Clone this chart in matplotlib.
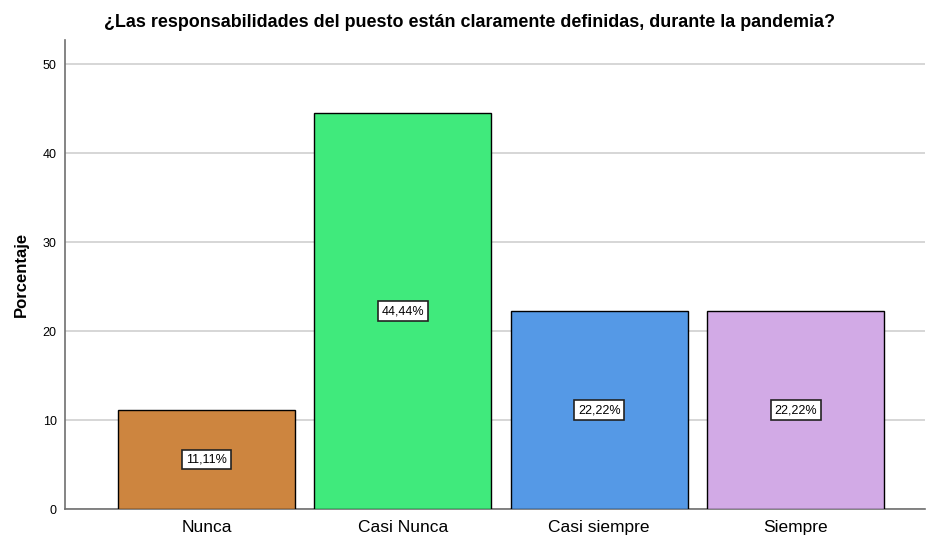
import matplotlib
matplotlib.use("Agg")
import matplotlib.pyplot as plt

categories = ["Nunca", "Casi Nunca", "Casi siempre", "Siempre"]
values = [11.11, 44.44, 22.22, 22.22]
labels = ["11,11%", "44,44%", "22,22%", "22,22%"]
colors = ["#CD853F", "#40EA7C", "#5599E6", "#D2AAE6"]
yticks = [0, 10, 20, 30, 40, 50]

plt.rcParams['font.family'] = ['Liberation Sans', 'DejaVu Sans']
fig = plt.figure(figsize=(9.27, 5.38), dpi=100)
ax = fig.add_axes([0.0701, 0.0539, 0.928, 0.8718])

x = list(range(len(categories)))
ax.bar(x, values, width=0.9, color=colors, edgecolor="black", linewidth=1, zorder=3)
for xi, v, lab in zip(x, values, labels):
    ax.text(xi, v / 2, lab, ha="center", va="center", fontsize=9, zorder=4,
            bbox=dict(boxstyle="square,pad=0.3", facecolor="white", edgecolor="#222222", linewidth=1.2))

ax.set_xlim(-0.72, 3.66)
ax.set_ylim(0, 52.7)
ax.set_yticks(yticks)
ax.set_xticks(x)
ax.set_xticklabels(categories, fontsize=12.5)
ax.tick_params(axis="both", length=0)
ax.tick_params(axis="y", labelsize=9, pad=6)
ax.tick_params(axis="x", pad=8)
ax.yaxis.grid(True, color="#D0D0D0", linewidth=1.2, zorder=0)
for s in ["top", "right"]:
    ax.spines[s].set_visible(False)
for s in ["left", "bottom"]:
    ax.spines[s].set_color("#707070")
    ax.spines[s].set_linewidth(1.2)

ax.set_ylabel("Porcentaje", fontsize=12, fontweight="bold", labelpad=10)
fig.text(0.506, 0.958, "¿Las responsabilidades del puesto están claramente definidas, durante la pandemia?",
         ha="center", va="center", fontsize=12.9, fontweight="bold")

fig.savefig("out.png", dpi=100)
